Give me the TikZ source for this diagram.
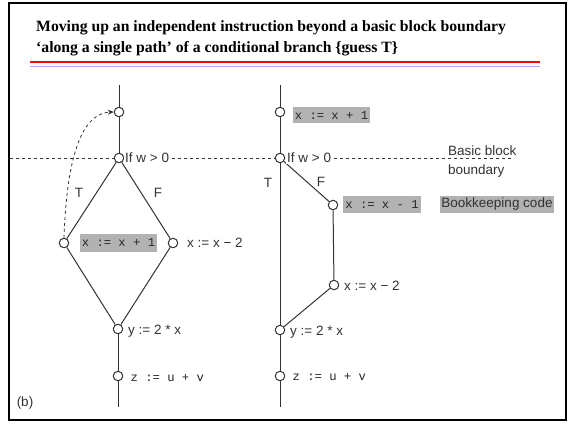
\documentclass[tikz,border=0pt]{standalone}
\usepackage{fontspec}
\setmainfont{Liberation Serif}
\newfontfamily\hv{Liberation Sans}
\newfontfamily\mono{Liberation Mono}
\usetikzlibrary{arrows.meta}
\definecolor{boxgray}{gray}{0.70}
\definecolor{ink}{gray}{0.2}
\begin{document}
\begin{tikzpicture}[x=1pt,y=-1pt,
  vtx/.style={circle,draw=ink,fill=white,line width=1pt,minimum size=9.5pt,inner sep=0pt},
  edge/.style={draw=ink,line width=1pt},
  lbl/.style={font=\hv\fontsize{13.5}{15}\selectfont,text=ink,inner sep=1pt},
  code/.style={font=\mono\fontsize{12.2}{14}\selectfont,text=black!85,inner sep=1.5pt},
  hl/.style={fill=boxgray},
  bnd/.style={draw=ink,dashed,line width=0.8pt}]
\useasboundingbox (0,0) rectangle (570,424);
\fill[white] (0,0) rectangle (570,424);
\draw[line width=2.5pt] (9,3) rectangle (566,420);
% title
\node[anchor=base west,font=\bfseries\fontsize{15.7}{18}\selectfont,inner sep=0pt] (t1) at (36,31) {Moving up an independent instruction beyond a basic block boundary};
\node[anchor=base west,font=\bfseries\fontsize{15.7}{18}\selectfont,inner sep=0pt] (t2) at (36,52) {‘along a single path’ of a conditional branch \{guess T\}};
\draw[red,line width=2.5pt] (30,62) -- (540,62);
\draw[blue!35,line width=0.8pt] (30,66) -- (540,66);
% boundary
\coordinate (bL) at (10,158);
\coordinate (bR) at (514,158);
\draw[bnd] (bL) -- (bR);
% left graph
\coordinate (L0) at (119,85);
\node[vtx] (L1) at (119,112) {};
\node[vtx] (L2) at (119,158) {};
\node[vtx] (L3) at (64,243) {};
\node[vtx] (L4) at (173,243) {};
\node[vtx] (L5) at (118,329) {};
\node[vtx] (L6) at (118,376) {};
\coordinate (L7) at (118,407);
\draw[edge] (L0) -- (L1) -- (L2);
\draw[edge] (L2) -- (L3) -- (L5);
\draw[edge] (L2) -- (L4) -- (L5);
\draw[edge] (L5) -- (L6) -- (L7);
\draw[ink,dashed,line width=0.8pt,-{Stealth[length=6pt,width=5pt]}] (L3.north) .. controls (67,150) and (84,113) .. (L1.west);
\node[lbl,fill=white,anchor=west] (ifL) at (124,158) {If w > 0};
\node[lbl] (TL) at (79,193) {T};
\node[lbl] (FL) at (158,193) {F};
\node[code,hl,minimum width=77pt,minimum height=18pt] (cL) at (118.5,242.5) {x := x + 1};
\node[lbl,anchor=west] (m2L) at (186,243) {x := x − 2};
\node[lbl,anchor=west] (yL) at (127,331) {y := 2 * x};
\node[code,anchor=west] (zL) at (129,378) {z := u + v};
\node[lbl] (b) at (25,403) {(b)};
% right graph
\coordinate (R0) at (280,85);
\node[vtx] (R1) at (280,112) {};
\node[vtx] (R2) at (280,158) {};
\node[vtx] (R3) at (333,205) {};
\node[vtx] (R4) at (334,285) {};
\node[vtx] (R5) at (280,330) {};
\node[vtx] (R6) at (280,376) {};
\coordinate (R7) at (280,407);
\draw[edge] (R0) -- (R1) -- (R2) -- (R5) -- (R6) -- (R7);
\draw[edge] (R2) -- (R3) -- (R4) -- (R5);
\node[code,hl,minimum width=77pt,minimum height=16pt] (cR1) at (331.5,115) {x := x + 1};
\node[lbl,fill=white,anchor=west] (ifR) at (286,158) {If w > 0};
\node[lbl] (TR) at (268,183) {T};
\node[lbl] (FR) at (321,182) {F};
\node[code,hl,minimum width=78pt,minimum height=17pt] (cR2) at (382,204) {x := x - 1};
\node[lbl,hl,minimum width=110pt,minimum height=17pt] (bk) at (497,204) {Bookkeeping code};
\node[lbl,anchor=base west] (bb1) at (447,155) {Basic block};
\node[lbl,anchor=base west] (bb2) at (447,174) {boundary};
\node[lbl,anchor=west] (m2R) at (343,286) {x := x − 2};
\node[lbl,anchor=west] (yR) at (289,332) {y := 2 * x};
\node[code,anchor=west] (zR) at (291,377) {z := u + v};
\end{tikzpicture}
\end{document}
